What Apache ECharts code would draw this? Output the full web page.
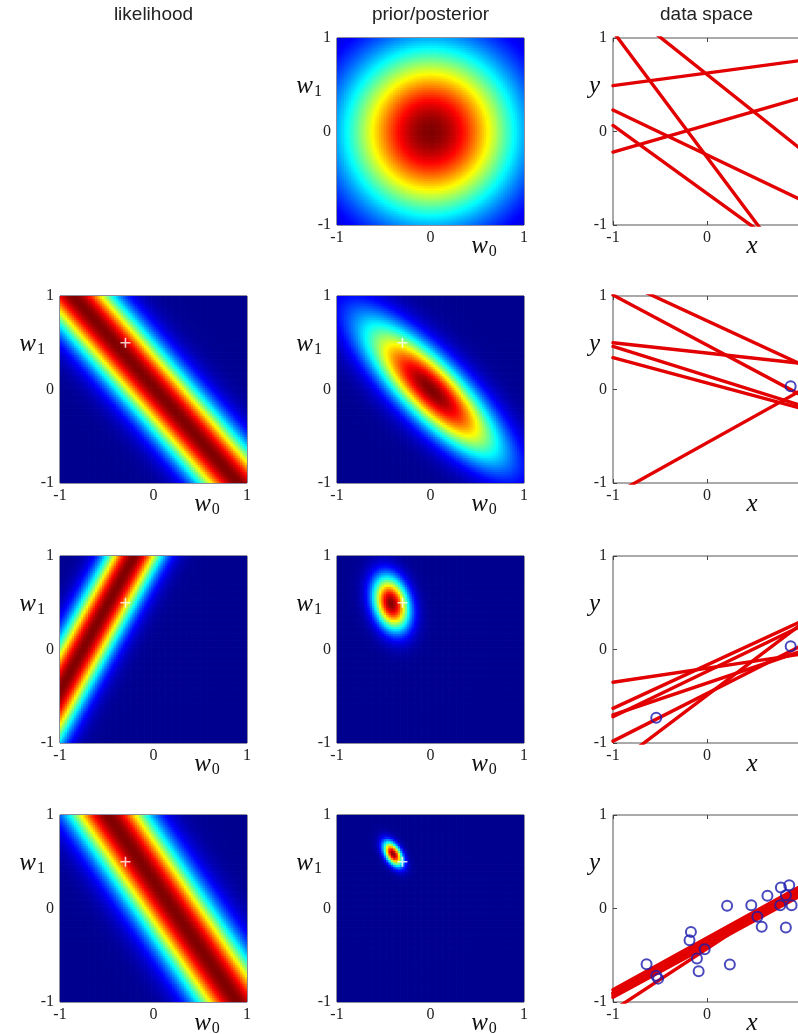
<!DOCTYPE html>
<html><head><meta charset="utf-8">
<script src="https://cdn.jsdelivr.net/npm/echarts@6/dist/echarts.min.js"></script>
<style>html,body{margin:0;padding:0;background:#fff}#c{width:798px;height:1034px}</style>
</head><body><div id="c"></div>
<script>
// ---------------- data ----------------
const columnTitles = ['likelihood', 'prior/posterior', 'data space'];
const tickValues = [-1, 0, 1];
const trueWeights = [-0.3, 0.5];                 // white cross (w0, w1)

// likelihood panels (rows 2-4): observed point [x, t] and ridge width (sd of residual)
const likelihoodPoints = [[0.88, 0.03], [-0.55, -0.76], [0.69, 0.21]];
const likelihoodSd = [0.30, 0.21, 0.30];

// prior / posterior gaussians (rows 1-4)
const posteriorMeans = [[0, 0], [0.01, 0.0], [-0.42, 0.50], [-0.40, 0.59]];
const posteriorSds = [[0.64, 0.64], [0.50, 0.50], [0.133, 0.197], [0.07, 0.09]];
const posteriorRho = [0, -0.82, -0.25, -0.5];

// data space: sampled lines given as [y at x=-1, y at x=1]
const linesRow1 = [[1.07, -1.62], [1.41, -0.19], [0.49, 0.76], [-0.22, 0.36], [0.23, -0.73], [0.065, -1.39]];
const linesRow2 = [[1.01, -0.06], [1.20, 0.27], [0.50, 0.28], [0.46, -0.17], [0.34, -0.20], [-1.13, -0.01]];
const linesRow3 = [[-0.35, -0.05], [-0.63, 0.30], [-0.72, 0.25], [-0.98, 0.04], [-1.25, 0.27], [-0.70, -0.02]];
const linesRow4 = [[-0.87, 0.24], [-0.90, 0.21], [-0.93, 0.17], [-0.95, 0.14], [-1.09, 0.23], [-0.91, 0.19]];

// observed data points (x, y)
const pointsRow2 = [[0.89, 0.035]];
const pointsRow3 = [[0.89, 0.035], [-0.54, -0.73]];
const pointsRow4 = [[-0.643, -0.596], [-0.54, -0.72], [-0.52, -0.75], [-0.171, -0.25], [-0.186, -0.34],
  [-0.107, -0.536], [-0.025, -0.436], [-0.089, -0.671], [0.214, 0.029], [0.243, -0.60],
  [0.471, 0.036], [0.536, -0.089], [0.582, -0.196], [0.643, 0.136], [0.786, 0.225],
  [0.875, 0.25], [0.839, 0.143], [0.779, 0.036], [0.90, 0.036], [0.839, -0.204]];

// ---------------- layout ----------------
const colLeft = [60, 337, 613];
const rowTop = [38, 296, 556, 815];
const SIZE = 187;
const N = 80;           // heat grid resolution
const jet = ['#00008f', '#0000ff', '#0080ff', '#00ffff', '#80ff80', '#ffff00', '#ff8000', '#ff0000', '#800000'];
const serif = '"Liberation Serif", "DejaVu Serif", serif';

const dataLines = [linesRow1, linesRow2, linesRow3, linesRow4];
const dataPoints = [[], pointsRow2, pointsRow3, pointsRow4];

function gaussCells(r) {
  const [m0, m1] = posteriorMeans[r], [s0, s1] = posteriorSds[r], rho = posteriorRho[r];
  const out = [];
  for (let i = 0; i < N; i++) for (let j = 0; j < N; j++) {
    const w0 = -1 + (i + 0.5) * 2 / N, w1 = -1 + (j + 0.5) * 2 / N;
    const z0 = (w0 - m0) / s0, z1 = (w1 - m1) / s1;
    const q = (z0 * z0 - 2 * rho * z0 * z1 + z1 * z1) / (1 - rho * rho);
    out.push([w0, w1, Math.exp(-q / 2)]);
  }
  return out;
}
function likeCells(k) {
  const [x, t] = likelihoodPoints[k], s = likelihoodSd[k];
  const out = [];
  for (let i = 0; i < N; i++) for (let j = 0; j < N; j++) {
    const w0 = -1 + (i + 0.5) * 2 / N, w1 = -1 + (j + 0.5) * 2 / N;
    const res = t - w0 - w1 * x;
    out.push([w0, w1, Math.exp(-res * res / (2 * s * s))]);
  }
  return out;
}
function renderCell(params, api) {
  const h = 1 / N;
  const x = api.value(0), y = api.value(1);
  const a = api.coord([x - h, y + h]), b = api.coord([x + h, y - h]);
  return { type: 'rect', shape: { x: a[0], y: a[1], width: b[0] - a[0] + 0.7, height: b[1] - a[1] + 0.7 },
           style: { fill: api.visual('color') } };
}

const panels = [{ row: 0, col: 1, kind: 'post' }, { row: 0, col: 2, kind: 'data' }];
for (let r = 1; r < 4; r++) {
  panels.push({ row: r, col: 0, kind: 'like' }, { row: r, col: 1, kind: 'post' }, { row: r, col: 2, kind: 'data' });
}

const grids = [], xAxes = [], yAxes = [], series = [], heatIdx = [];
const richName = {
  w: { fontFamily: serif, fontStyle: 'italic', fontSize: 25, lineHeight: 26, color: '#111' },
  s: { fontFamily: serif, fontSize: 16, lineHeight: 16, padding: [12, 0, 0, 1], color: '#111' }
};
panels.forEach((p, gi) => {
  const isData = p.kind === 'data';
  grids.push({ left: colLeft[p.col], top: rowTop[p.row], width: isData ? 188 : SIZE, height: SIZE,
    show: true, borderColor: isData ? '#555' : '#1a1a3a', borderWidth: 1, backgroundColor: 'transparent',
    containLabel: false, outerBoundsMode: 'none' });
  const common = {
    gridIndex: gi, type: 'value', min: -1, max: 1, interval: 1,
    axisLine: { show: false, onZero: false }, splitLine: { show: false },
    axisTick: { show: isData, inside: true, length: 4, lineStyle: { color: '#444', width: 1 } }
  };
  xAxes.push(Object.assign({}, common, {
    position: 'bottom',
    axisLabel: { fontFamily: serif, fontSize: 16, color: '#222', margin: 5 },
    name: isData ? '{w|x}' : '{w|w}{s|0}', nameLocation: 'end', nameGap: isData ? -49 : -40,
    nameMoveOverlap: false,
    nameTextStyle: { align: 'center', verticalAlign: 'top', padding: [8, 0, 0, 0], rich: richName }
  }));
  const xi = xAxes.length - 1;
  if (isData) {
    xAxes.push(Object.assign({}, common, { position: 'top', axisLabel: { show: false } }));
  }
  yAxes.push(Object.assign({}, common, {
    position: 'left',
    axisLabel: { fontFamily: serif, fontSize: 16, color: '#222', margin: 6 },
    name: isData ? '{w|y}' : '{w|w}{s|1}', nameLocation: 'end', nameGap: -48, nameRotate: 0,
    nameMoveOverlap: false,
    nameTextStyle: { align: 'right', verticalAlign: 'middle', padding: [0, isData ? 13 : 15, 0, 0], rich: richName }
  }));
  const yi = yAxes.length - 1;

  if (p.kind === 'post' || p.kind === 'like') {
    heatIdx.push(series.length);
    series.push({ type: 'custom', coordinateSystem: 'cartesian2d', xAxisIndex: xi, yAxisIndex: yi,
      data: p.kind === 'post' ? gaussCells(p.row) : likeCells(p.row - 1),
      encode: { x: 0, y: 1 }, renderItem: renderCell, silent: true, clip: true, z: 1, progressive: 0 });
    if (p.row > 0) {
      series.push({ type: 'scatter', xAxisIndex: xi, yAxisIndex: yi, data: [trueWeights], silent: true, z: 5,
        symbol: 'path://M4.2,0H5.8V4.2H10V5.8H5.8V10H4.2V5.8H0V4.2H4.2Z', symbolSize: 10,
        itemStyle: { color: '#ffffff' } });
    }
  } else {
    dataLines[p.row].forEach(l => {
      series.push({ type: 'line', xAxisIndex: xi, yAxisIndex: yi, data: [[-1, l[0]], [1, l[1]]],
        showSymbol: false, symbol: 'none', clip: true, silent: true, z: 2,
        lineStyle: { color: '#e30000', width: 3.4, cap: 'round' } });
    });
    if (dataPoints[p.row].length) {
      series.push({ type: 'scatter', xAxisIndex: xi, yAxisIndex: yi, data: dataPoints[p.row], silent: true, z: 4,
        symbol: 'circle', symbolSize: 10,
        itemStyle: { color: 'rgba(0,0,0,0)', borderColor: '#1c1cae', borderWidth: 2 } });
    }
  }
});

const chart = echarts.init(document.getElementById('c'), null, { renderer: 'canvas', width: 798, height: 1034 });
chart.setOption({
  animation: false,
  backgroundColor: '#ffffff',
  grid: grids, xAxis: xAxes, yAxis: yAxes,
  visualMap: [{ type: 'continuous', show: false, min: 0, max: 1, dimension: 2, seriesIndex: heatIdx,
    inRange: { color: jet } }],
  graphic: columnTitles.map((t, i) => ({ type: 'text', x: colLeft[i] + 93.5, y: 15, silent: true,
    style: { text: t, fill: '#222', fontSize: 19, fontFamily: '"Liberation Sans", Arial, sans-serif',
      align: 'center', verticalAlign: 'middle' } })),
  series: series
});
</script>
</body></html>
